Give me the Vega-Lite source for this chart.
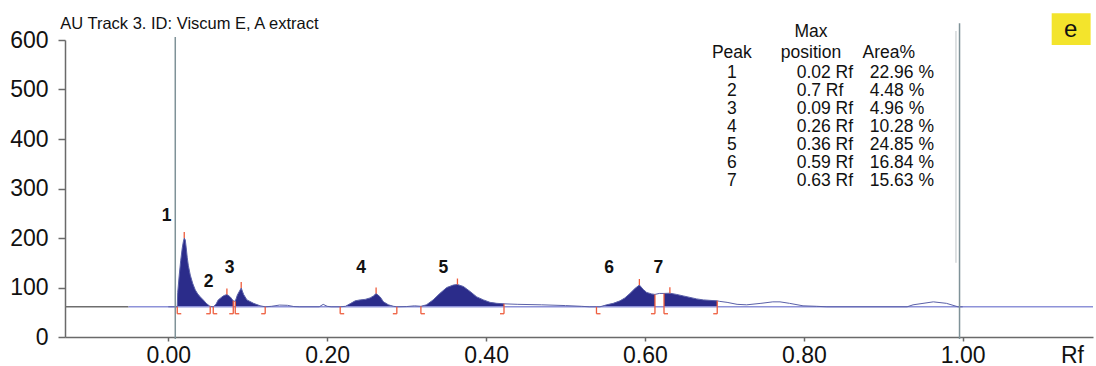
{
  "$schema": "https://vega.github.io/schema/vega-lite/v6.json",
  "width": 1028,
  "height": 297,
  "autosize": {"type": "none"},
  "padding": {"left": 65, "top": 40, "right": 3, "bottom": 29},
  "background": "white",
  "config": {
    "view": {"stroke": null},
    "font": "Liberation Sans",
    "axisY": {"domainColor": "#6a6a6a", "domainWidth": 1.5, "tickColor": "#6a6a6a", "tickWidth": 1.5, "tickSize": 7, "labelFontSize": 23, "labelColor": "#111", "labelFont": "Liberation Sans", "labelPadding": 10, "grid": false},
    "axisX": {"domainColor": "#6a6a6a", "domainWidth": 1.5, "tickColor": "#6a6a6a", "tickWidth": 1.5, "tickSize": 4, "labelFontSize": 23, "labelColor": "#111", "labelFont": "Liberation Sans", "labelPadding": 3, "labelFlush": false, "grid": false}
  },
  "datasets": {
    "curve": [
      {"rf": 0.000, "au": 61, "peak": null},
      {"rf": 0.0107, "au": 61, "peak": null},
      {"rf": 0.0113, "au": 61, "peak": 1},
      {"rf": 0.0119, "au": 90, "peak": 1},
      {"rf": 0.0138, "au": 125, "peak": 1},
      {"rf": 0.0157, "au": 155, "peak": 1},
      {"rf": 0.0176, "au": 180, "peak": 1},
      {"rf": 0.0189, "au": 192, "peak": 1},
      {"rf": 0.0201, "au": 200, "peak": 1},
      {"rf": 0.0214, "au": 196, "peak": 1},
      {"rf": 0.0226, "au": 180, "peak": 1},
      {"rf": 0.0239, "au": 160, "peak": 1},
      {"rf": 0.0252, "au": 145, "peak": 1},
      {"rf": 0.0277, "au": 125, "peak": 1},
      {"rf": 0.0308, "au": 108, "peak": 1},
      {"rf": 0.0340, "au": 95, "peak": 1},
      {"rf": 0.0371, "au": 87, "peak": 1},
      {"rf": 0.0403, "au": 81, "peak": 1},
      {"rf": 0.0440, "au": 75, "peak": 1},
      {"rf": 0.0478, "au": 68, "peak": 1},
      {"rf": 0.0516, "au": 63, "peak": 1},
      {"rf": 0.0528, "au": 62, "peak": 1},
      {"rf": 0.0566, "au": 61, "peak": 2},
      {"rf": 0.0600, "au": 66, "peak": 2},
      {"rf": 0.0629, "au": 75, "peak": 2},
      {"rf": 0.0692, "au": 83, "peak": 2},
      {"rf": 0.0738, "au": 86, "peak": 2},
      {"rf": 0.0780, "au": 81, "peak": 2},
      {"rf": 0.0818, "au": 73, "peak": 2},
      {"rf": 0.0843, "au": 72, "peak": 3},
      {"rf": 0.0870, "au": 85, "peak": 3},
      {"rf": 0.0918, "au": 99, "peak": 3},
      {"rf": 0.0948, "au": 86, "peak": 3},
      {"rf": 0.0990, "au": 75, "peak": 3},
      {"rf": 0.1073, "au": 68, "peak": 3},
      {"rf": 0.1157, "au": 63, "peak": 3},
      {"rf": 0.1220, "au": 61, "peak": 3},
      {"rf": 0.1300, "au": 62, "peak": null},
      {"rf": 0.1400, "au": 64.5, "peak": null},
      {"rf": 0.1500, "au": 64, "peak": null},
      {"rf": 0.1580, "au": 61.5, "peak": null},
      {"rf": 0.1650, "au": 61, "peak": null},
      {"rf": 0.1900, "au": 61, "peak": null},
      {"rf": 0.1950, "au": 66, "peak": null},
      {"rf": 0.2000, "au": 62, "peak": null},
      {"rf": 0.2050, "au": 61, "peak": null},
      {"rf": 0.2164, "au": 61, "peak": 4},
      {"rf": 0.2230, "au": 62, "peak": 4},
      {"rf": 0.2298, "au": 68, "peak": 4},
      {"rf": 0.2352, "au": 73, "peak": 4},
      {"rf": 0.2415, "au": 75, "peak": 4},
      {"rf": 0.2478, "au": 76, "peak": 4},
      {"rf": 0.2541, "au": 79, "peak": 4},
      {"rf": 0.2583, "au": 83, "peak": 4},
      {"rf": 0.2616, "au": 88, "peak": 4},
      {"rf": 0.2667, "au": 81, "peak": 4},
      {"rf": 0.2709, "au": 71, "peak": 4},
      {"rf": 0.2771, "au": 65, "peak": 4},
      {"rf": 0.2835, "au": 62, "peak": 4},
      {"rf": 0.2877, "au": 61, "peak": 4},
      {"rf": 0.3000, "au": 61.5, "peak": null},
      {"rf": 0.3100, "au": 63, "peak": null},
      {"rf": 0.3180, "au": 62, "peak": 5},
      {"rf": 0.3250, "au": 65, "peak": 5},
      {"rf": 0.3334, "au": 75, "peak": 5},
      {"rf": 0.3418, "au": 88, "peak": 5},
      {"rf": 0.3506, "au": 100, "peak": 5},
      {"rf": 0.3589, "au": 105, "peak": 5},
      {"rf": 0.3640, "au": 106, "peak": 5},
      {"rf": 0.3715, "au": 102, "peak": 5},
      {"rf": 0.3799, "au": 92, "peak": 5},
      {"rf": 0.3883, "au": 81, "peak": 5},
      {"rf": 0.3967, "au": 75, "peak": 5},
      {"rf": 0.4050, "au": 70, "peak": 5},
      {"rf": 0.4135, "au": 68, "peak": 5},
      {"rf": 0.4226, "au": 67, "peak": 5},
      {"rf": 0.4400, "au": 66, "peak": null},
      {"rf": 0.4700, "au": 65, "peak": null},
      {"rf": 0.5000, "au": 63.5, "peak": null},
      {"rf": 0.5200, "au": 62, "peak": null},
      {"rf": 0.5300, "au": 61, "peak": null},
      {"rf": 0.5390, "au": 61, "peak": 6},
      {"rf": 0.5434, "au": 61, "peak": 6},
      {"rf": 0.5518, "au": 65, "peak": 6},
      {"rf": 0.5601, "au": 68, "peak": 6},
      {"rf": 0.5686, "au": 73, "peak": 6},
      {"rf": 0.5748, "au": 79, "peak": 6},
      {"rf": 0.5811, "au": 88, "peak": 6},
      {"rf": 0.5874, "au": 98, "peak": 6},
      {"rf": 0.5930, "au": 105, "peak": 6},
      {"rf": 0.5979, "au": 96, "peak": 6},
      {"rf": 0.6022, "au": 90, "peak": 6},
      {"rf": 0.6084, "au": 87, "peak": 6},
      {"rf": 0.6126, "au": 86, "peak": 6},
      {"rf": 0.6180, "au": 88, "peak": null},
      {"rf": 0.6240, "au": 88, "peak": 7},
      {"rf": 0.6314, "au": 88.5, "peak": 7},
      {"rf": 0.6398, "au": 86, "peak": 7},
      {"rf": 0.6482, "au": 83, "peak": 7},
      {"rf": 0.6566, "au": 80, "peak": 7},
      {"rf": 0.6650, "au": 77, "peak": 7},
      {"rf": 0.6734, "au": 75, "peak": 7},
      {"rf": 0.6818, "au": 74, "peak": 7},
      {"rf": 0.6910, "au": 73, "peak": 7},
      {"rf": 0.6940, "au": 72, "peak": null},
      {"rf": 0.7034, "au": 70, "peak": null},
      {"rf": 0.7160, "au": 66, "peak": null},
      {"rf": 0.7280, "au": 65, "peak": null},
      {"rf": 0.7460, "au": 68, "peak": null},
      {"rf": 0.7610, "au": 71, "peak": null},
      {"rf": 0.7700, "au": 71, "peak": null},
      {"rf": 0.7820, "au": 68, "peak": null},
      {"rf": 0.7990, "au": 63, "peak": null},
      {"rf": 0.8160, "au": 62, "peak": null},
      {"rf": 0.8290, "au": 61, "peak": null},
      {"rf": 0.9300, "au": 61, "peak": null},
      {"rf": 0.9375, "au": 65, "peak": null},
      {"rf": 0.9630, "au": 71, "peak": null},
      {"rf": 0.9795, "au": 68, "peak": null},
      {"rf": 0.9940, "au": 61, "peak": null},
      {"rf": 1.0000, "au": 61, "peak": null}
    ],
    "peaks": [
      {"peak": 1, "start": 0.0113, "end": 0.0528, "startAu": 61, "endAu": 62, "maxRf": 0.0201, "maxAu": 200, "pos": "0.02 Rf", "area": "22.96 %", "labelRf": -0.002, "labelAu": 244},
      {"peak": 2, "start": 0.0566, "end": 0.0818, "startAu": 61, "endAu": 73, "maxRf": 0.0738, "maxAu": 86, "pos": "0.7 Rf", "area": "4.48 %", "labelRf": 0.0507, "labelAu": 112},
      {"peak": 3, "start": 0.0843, "end": 0.1220, "startAu": 72, "endAu": 61, "maxRf": 0.0918, "maxAu": 99, "pos": "0.09 Rf", "area": "4.96 %", "labelRf": 0.0771, "labelAu": 139},
      {"peak": 4, "start": 0.2164, "end": 0.2877, "startAu": 61, "endAu": 61, "maxRf": 0.2616, "maxAu": 88, "pos": "0.26 Rf", "area": "10.28 %", "labelRf": 0.2428, "labelAu": 139},
      {"peak": 5, "start": 0.3180, "end": 0.4226, "startAu": 62, "endAu": 67, "maxRf": 0.3640, "maxAu": 106, "pos": "0.36 Rf", "area": "24.85 %", "labelRf": 0.3463, "labelAu": 139},
      {"peak": 6, "start": 0.5390, "end": 0.6126, "startAu": 61, "endAu": 86, "maxRf": 0.5930, "maxAu": 105, "pos": "0.59 Rf", "area": "16.84 %", "labelRf": 0.555, "labelAu": 139},
      {"peak": 7, "start": 0.6240, "end": 0.6910, "startAu": 88, "endAu": 73, "maxRf": 0.6314, "maxAu": 88.5, "pos": "0.63 Rf", "area": "15.63 %", "labelRf": 0.6168, "labelAu": 139}
    ]
  },
  "layer": [
    {
      "layer": [
        {
          "data": {"name": "curve"},
          "transform": [{"filter": {"field": "peak", "valid": true}}],
          "mark": {"type": "area", "orient": "vertical", "color": "#2B2C8A", "opacity": 1},
          "encoding": {
            "x": {"field": "rf", "type": "quantitative", "scale": {"domain": [-0.13, 1.164], "nice": false, "zero": false}, "axis": {"values": [0, 0.2, 0.4, 0.6, 0.8, 1.0], "format": ".2f", "title": "Rf", "titleFontSize": 23, "titleFontWeight": "normal", "titleColor": "#111", "titleFont": "Liberation Sans", "titleAngle": 0, "titleAlign": "center", "titleAnchor": "start", "titleBaseline": "alphabetic", "titleX": 1007, "titleY": 25}},
            "y": {"field": "au", "type": "quantitative", "scale": {"domain": [0, 600], "nice": false, "zero": true}, "axis": {"values": [0, 100, 200, 300, 400, 500, 600], "title": null}},
            "y2": {"datum": 61},
            "detail": {"field": "peak"}
          }
        },
        {
          "data": {"values": [{}]},
          "mark": {"type": "rule", "color": "#6E6E6E", "strokeWidth": 1.5},
          "encoding": {"x": {"datum": -0.13}, "x2": {"datum": -0.05}, "y": {"datum": 61}}
        },
        {
          "data": {"values": [{}]},
          "mark": {"type": "rule", "color": "#8E92D8", "strokeWidth": 1.5},
          "encoding": {"x": {"datum": -0.05}, "x2": {"datum": 1.164}, "y": {"datum": 61}}
        },
        {
          "data": {"name": "curve"},
          "mark": {"type": "line", "color": "#5A60A8", "strokeWidth": 1},
          "encoding": {"x": {"field": "rf", "type": "quantitative"}, "y": {"field": "au", "type": "quantitative"}}
        },
        {
          "data": {"values": [{}]},
          "mark": {"type": "rule", "color": "#7F9298", "strokeWidth": 1.5},
          "encoding": {"x": {"datum": 0.0088}, "y": {"datum": -4}, "y2": {"datum": 606}}
        },
        {
          "data": {"values": [{}]},
          "mark": {"type": "rule", "color": "#C9CED0", "strokeWidth": 1.2},
          "encoding": {"x": {"datum": 0.9915}, "y": {"datum": 150}, "y2": {"datum": 618}}
        },
        {
          "data": {"values": [{}]},
          "mark": {"type": "rule", "color": "#7F9298", "strokeWidth": 1.5},
          "encoding": {"x": {"datum": 0.996}, "y": {"datum": -4}, "y2": {"datum": 634}}
        },
        {
          "data": {"name": "peaks"},
          "mark": {"type": "rule", "color": "#EE5C3C", "strokeWidth": 1.3},
          "encoding": {"x": {"field": "start", "type": "quantitative"}, "y": {"field": "startAu", "type": "quantitative"}, "y2": {"datum": 47}}
        },
        {
          "data": {"name": "peaks"},
          "mark": {"type": "rule", "color": "#EE5C3C", "strokeWidth": 1.3},
          "encoding": {"x": {"field": "end", "type": "quantitative"}, "y": {"field": "endAu", "type": "quantitative"}, "y2": {"datum": 47}}
        },
        {
          "data": {"name": "peaks"},
          "mark": {"type": "point", "shape": "M0,0L1,0", "size": 64, "filled": false, "opacity": 1, "color": "#EE5C3C", "strokeWidth": 1.3},
          "encoding": {"x": {"field": "start", "type": "quantitative"}, "y": {"datum": 47}}
        },
        {
          "data": {"name": "peaks"},
          "mark": {"type": "point", "shape": "M0,0L-1,0", "size": 64, "filled": false, "opacity": 1, "color": "#EE5C3C", "strokeWidth": 1.3},
          "encoding": {"x": {"field": "end", "type": "quantitative"}, "y": {"datum": 47}}
        },
        {
          "data": {"name": "peaks"},
          "mark": {"type": "point", "shape": "M0,0L0,-1.5", "size": 64, "filled": false, "opacity": 1, "color": "#EE5C3C", "strokeWidth": 1.3},
          "encoding": {"x": {"field": "maxRf", "type": "quantitative"}, "y": {"field": "maxAu", "type": "quantitative"}}
        },
        {
          "data": {"name": "peaks"},
          "mark": {"type": "text", "font": "Liberation Sans", "fontSize": 17.5, "fontWeight": "bold", "color": "#111", "align": "center", "baseline": "middle"},
          "encoding": {"x": {"field": "labelRf", "type": "quantitative"}, "y": {"field": "labelAu", "type": "quantitative"}, "text": {"field": "peak"}}
        },
        {
          "data": {"values": [{}]},
          "mark": {"type": "rect", "color": "#F3E42C"},
          "encoding": {"x": {"datum": 1.112}, "x2": {"datum": 1.161}, "y": {"datum": 654}, "y2": {"datum": 590}}
        },
        {
          "data": {"values": [{}]},
          "mark": {"type": "text", "text": "e", "font": "Liberation Sans", "fontSize": 24, "color": "#111", "align": "center", "baseline": "middle"},
          "encoding": {"x": {"datum": 1.136}, "y": {"datum": 620}}
        },
        {
          "data": {"values": [{}]},
          "mark": {"type": "text", "text": "AU Track 3. ID: Viscum E, A extract", "font": "Liberation Sans", "fontSize": 16.5, "color": "#111", "align": "left", "baseline": "alphabetic"},
          "encoding": {"x": {"datum": -0.136}, "y": {"datum": 622}}
        }
      ]
    },
    {
      "layer": [
        {
          "data": {"name": "peaks"},
          "mark": {"type": "text", "font": "Liberation Sans", "fontSize": 17.5, "color": "#111", "align": "center", "baseline": "middle"},
          "encoding": {"x": {"datum": 0.7094}, "y": {"field": "peak", "type": "quantitative", "scale": {"domain": [-0.826, 15.61], "reverse": true, "nice": false, "zero": false}, "axis": null}, "text": {"field": "peak"}}
        },
        {
          "data": {"name": "peaks"},
          "mark": {"type": "text", "font": "Liberation Sans", "fontSize": 17.5, "color": "#111", "align": "left", "baseline": "middle"},
          "encoding": {"x": {"datum": 0.791}, "y": {"field": "peak", "type": "quantitative"}, "text": {"field": "pos"}}
        },
        {
          "data": {"name": "peaks"},
          "mark": {"type": "text", "font": "Liberation Sans", "fontSize": 17.5, "color": "#111", "align": "left", "baseline": "middle"},
          "encoding": {"x": {"datum": 0.883}, "y": {"field": "peak", "type": "quantitative"}, "text": {"field": "area"}}
        },
        {
          "data": {"values": [{}]},
          "mark": {"type": "text", "text": "Max", "font": "Liberation Sans", "fontSize": 17.5, "color": "#111", "align": "center", "baseline": "middle"},
          "encoding": {"x": {"datum": 0.809}, "y": {"datum": -1.269}}
        },
        {
          "data": {"values": [{}]},
          "mark": {"type": "text", "text": "Peak", "font": "Liberation Sans", "fontSize": 17.5, "color": "#111", "align": "center", "baseline": "middle"},
          "encoding": {"x": {"datum": 0.7094}, "y": {"datum": -0.107}}
        },
        {
          "data": {"values": [{}]},
          "mark": {"type": "text", "text": "position", "font": "Liberation Sans", "fontSize": 17.5, "color": "#111", "align": "center", "baseline": "middle"},
          "encoding": {"x": {"datum": 0.809}, "y": {"datum": -0.107}}
        },
        {
          "data": {"values": [{}]},
          "mark": {"type": "text", "text": "Area%", "font": "Liberation Sans", "fontSize": 17.5, "color": "#111", "align": "left", "baseline": "middle"},
          "encoding": {"x": {"datum": 0.874}, "y": {"datum": -0.107}}
        }
      ]
    }
  ],
  "resolve": {"scale": {"y": "independent"}, "axis": {"y": "independent"}}
}
